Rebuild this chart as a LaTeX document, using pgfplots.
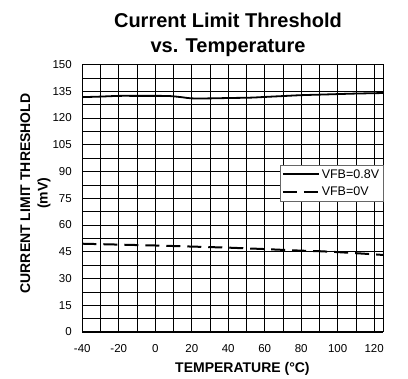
\documentclass[border=0pt]{standalone}
\usepackage{fontspec}
\setmainfont{Liberation Sans}
\usepackage{pgfplots}
\pgfplotsset{compat=1.18}
\begin{document}
\begin{tikzpicture}
\useasboundingbox (-82.3pt,-47pt) rectangle (325.7pt,332pt);
\begin{axis}[
  scale only axis, width=301pt, height=267.5pt,
  xmin=-40, xmax=125, ymin=0, ymax=150,
  xtick={-40,-20,...,120}, minor xtick={-30,-10,...,110},
  ytick={0,15,...,150}, minor ytick={7.5,22.5,...,142.5},
  grid=both,
  major grid style={black, line width=0.7pt},
  minor grid style={black, line width=0.7pt},
  major tick length=0pt, minor tick length=0pt,
  axis line style={black, line width=1pt},
  /pgf/number format/assume math mode=true,
  tick label style={font=\fontsize{11.5}{13}\selectfont},
  yticklabel style={xshift=-7pt},
  xticklabel style={yshift=-9pt},
  xlabel={\textbf{TEMPERATURE (°C)}},
  xlabel style={at={(axis description cs:0.532,0)}, anchor=base, yshift=-40.7pt, font=\fontsize{14}{16}\selectfont},
  ylabel={\textbf{CURRENT LIMIT THRESHOLD}\\\textbf{(mV)}},
  ylabel style={at={(axis description cs:-0.156,0.518)}, rotate=0, anchor=center, align=center, font=\fontsize{14}{17.5}\selectfont},
  title={\textbf{Current Limit Threshold}\\\textbf{vs. Temperature}},
  title style={at={(axis description cs:0.484,1)}, anchor=north, inner sep=0pt, yshift=46pt, align=center, font=\fontsize{20}{25}\selectfont},
  legend style={at={(rel axis cs:1,0.624)}, anchor=north east, draw=black!60, fill=white,
    inner xsep=2pt, inner ysep=2pt, row sep=3pt,
    nodes={inner sep=2pt}, font=\fontsize{12.5}{14}\selectfont},
  legend cell align=left,
  legend image code/.code={\draw[#1] (0pt,0pt) -- (36pt,0pt);},
]
\addplot[black, line width=1.8pt, smooth] coordinates {
(-40,131.7) (-30,132.0) (-20,132.4) (-10,132.4) (0,132.4) (8,132.3) (15,131.6) (20,131.0) (30,131.0) (40,131.2) (52,131.4) (60,131.8) (70,132.3) (80,132.8) (90,133.1) (100,133.4) (110,133.7) (125,134.0)
};
\addlegendentry{VFB=0.8V}
\addplot[black, line width=2pt, dash pattern=on 14pt off 7pt] coordinates {
(-40,49.5) (-20,49.0) (0,48.5) (20,47.9) (40,47.3) (60,46.5) (80,45.6) (90,45.3) (100,44.8) (110,44.2) (125,43.2)
};
\addlegendentry{VFB=0V}
\end{axis}
\end{tikzpicture}
\end{document}
